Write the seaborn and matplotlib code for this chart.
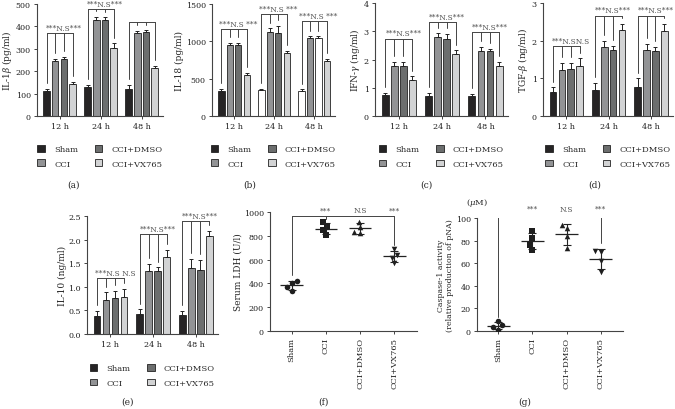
import numpy as np
import pandas as pd
import seaborn as sns
import matplotlib.pyplot as plt
from matplotlib.ticker import FormatStrFormatter

# datos
tiempos = ['12 h', '24 h', '48 h']
tratamientos = ['Sham', 'CCI', 'CCI+DMSO', 'CCI+VX765']

il1b_media = [[113, 245, 253, 145], [128, 430, 430, 305], [122, 370, 375, 215]]
il1b_err = [[8, 10, 10, 8], [10, 12, 10, 20], [17, 10, 8, 10]]
il1b_corchete = [370, 478, 420]
il1b_texto = ['***N.S***', '***N.S***', '']

il18_media = [[340, 950, 950, 550], [345, 1125, 1115, 850], [340, 1040, 1050, 740]]
il18_err = [[25, 30, 30, 30], [20, 50, 90, 25], [20, 30, 20, 30]]
il18_corchete = [1165, 1366, 1272]
il18_texto = ['***N.S ***', '***N.S ***', '***N.S ***']

ifn_media = [[0.73, 1.77, 1.77, 1.28], [0.72, 2.78, 2.72, 2.18], [0.72, 2.30, 2.30, 1.77]]
ifn_err = [[0.08, 0.15, 0.15, 0.12], [0.10, 0.15, 0.18, 0.15], [0.06, 0.15, 0.08, 0.15]]
ifn_corchete = [2.74, 3.33, 2.96]
ifn_texto = ['***N.S***', '***N.S***', '***N.S***']

tgf_media = [[0.65, 1.22, 1.26, 1.33], [0.70, 1.82, 1.74, 2.27], [0.78, 1.76, 1.72, 2.25]]
tgf_err = [[0.11, 0.20, 0.15, 0.20], [0.18, 0.17, 0.13, 0.18], [0.22, 0.15, 0.12, 0.20]]
tgf_corchete = [1.86, 2.66, 2.66]
tgf_texto = ['***N.SN.S', '***N.S***', '***N.S***']

il10_media = [[0.38, 0.73, 0.76, 0.78], [0.42, 1.33, 1.33, 1.63], [0.40, 1.39, 1.35, 2.08]]
il10_err = [[0.10, 0.15, 0.15, 0.18], [0.10, 0.16, 0.08, 0.15], [0.08, 0.20, 0.22, 0.10]]
il10_corchete = [1.18, 2.11, 2.39]
il10_texto = ['***N.S N.S', '***N.S***', '***N.S***']

ldh = {'Sham': [406, 417, 372, 339],
       'CCI': [915, 878, 845, 805],
       'CCI+DMSO': [920, 875, 825, 832],
       'CCI+VX765': [686, 641, 613, 571]}
caspasa = {'Sham': [5.0, 8.6, 3.5, 1.2],
           'CCI': [88.8, 82.0, 76.0, 71.6],
           'CCI+DMSO': [93.8, 90.8, 83.7, 73.4],
           'CCI+VX765': [71.0, 70.0, 62.0, 52.4]}
texto_puntos = ['***', 'N.S', '***']

colores = ['#262425', '#929395', '#6c6e6e', '#d2d3d4']
marcadores = ['o', 's', '^', 'v']
gris = '#444444'

sns.set_style('ticks')
plt.rcParams['font.family'] = ['DejaVu Serif']
plt.rcParams['mathtext.fontset'] = 'dejavuserif'
plt.rcParams['axes.edgecolor'] = gris
plt.rcParams['xtick.color'] = gris
plt.rcParams['ytick.color'] = gris
plt.rcParams['xtick.labelcolor'] = '#222222'
plt.rcParams['ytick.labelcolor'] = '#222222'
plt.rcParams['axes.linewidth'] = 0.8

W, H = 675, 410
fig = plt.figure(figsize=(W / 100, H / 100), dpi=100)


def caja(l, r, t, b):
    return [l / W, 1 - b / H, (r - l) / W, (b - t) / H]


def estilo(ax, ylim, yticks, ylabel):
    ax.set_ylim(ylim)
    ax.set_yticks(yticks)
    ax.set_ylabel(ylabel, fontsize=6.5, labelpad=1)
    ax.tick_params(labelsize=5.8, length=2.5, width=0.7, pad=2)
    sns.despine(ax=ax)


def panel_barras(ax, medias, errores, ylim, yticks, ylabel, corchetes, textos, blancos=()):
    filas = []
    for gi, t in enumerate(tiempos):
        for hi, g in enumerate(tratamientos):
            filas.append({'tiempo': t, 'grupo': g, 'valor': medias[gi][hi]})
    df = pd.DataFrame(filas)
    sns.barplot(data=df, x='tiempo', y='valor', hue='grupo', order=tiempos,
                hue_order=tratamientos, palette=colores, width=0.84, gap=0.25,
                errorbar=None, saturation=1, ax=ax)
    paso = 0.84 / 4
    for p in ax.patches:
        cx = p.get_x() + p.get_width() / 2
        gi = int(round(cx))
        hi = int(round((cx - gi) / paso + 1.5))
        p.set_edgecolor('#222222')
        p.set_linewidth(0.6)
        if (gi, hi) in blancos:
            p.set_facecolor('white')
    ymax = ylim[1]
    for gi in range(3):
        xs = [gi + (hi - 1.5) * paso for hi in range(4)]
        arriba = [medias[gi][hi] + errores[gi][hi] for hi in range(4)]
        ax.errorbar(xs, [medias[gi][hi] for hi in range(4)],
                    yerr=[np.zeros(4), errores[gi]], fmt='none', ecolor='#222222',
                    elinewidth=0.7, capsize=1.6, capthick=0.7)
        y0 = corchetes[gi]
        ax.plot([xs[0], xs[3]], [y0, y0], color=gris, lw=0.7)
        for hi in range(4):
            ax.plot([xs[hi], xs[hi]], [y0, arriba[hi] + 0.05 * ymax], color=gris, lw=0.7)
        if textos[gi]:
            ax.text(xs[2], y0 + 0.012 * ymax, textos[gi], ha='center', va='bottom',
                    fontsize=5.3, color='#555555')
    ax.set_xlim(-0.55, 2.52)
    ax.set_xlabel('')
    estilo(ax, ylim, yticks, ylabel)
    h, l = ax.get_legend_handles_labels()
    ax.legend(h, l, ncol=2, loc='upper center', bbox_to_anchor=(0.5, -0.19),
              frameon=False, fontsize=6, handlelength=0.9, handleheight=0.9,
              columnspacing=2.0, handletextpad=1.1, labelspacing=0.75)


def panel_puntos(ax, datos, ylim, yticks, ylabel, corchete):
    df = pd.DataFrame([(g, v) for g in tratamientos for v in datos[g]],
                      columns=['grupo', 'valor'])
    for g, m in zip(tratamientos, marcadores):
        sns.swarmplot(data=df[df['grupo'] == g], x='grupo', y='valor', order=tratamientos,
                      marker=m, color='#1e1e1e', size=4.0, ax=ax)
    res = df.groupby('grupo')['valor'].agg(['mean', 'std']).reindex(tratamientos)
    x = np.arange(4)
    ax.hlines(res['mean'], x - 0.33, x + 0.33, color='#222222', lw=0.9, zorder=4)
    ax.errorbar(x, res['mean'], yerr=res['std'], fmt='none', ecolor='#222222',
                elinewidth=0.8, capsize=3, capthick=0.8, zorder=4)
    ymax = ylim[1]
    ax.plot([0, 3], [corchete, corchete], color=gris, lw=0.7)
    for i in [0, 3]:
        fin = res['mean'].iloc[i] + res['std'].iloc[i] + 0.05 * ymax
        ax.plot([i, i], [corchete, fin], color=gris, lw=0.7)
    ax.plot([1, 1], [corchete, corchete - 0.025 * ymax], color=gris, lw=0.7)
    for i, s in zip([1, 2, 3], texto_puntos):
        ax.text(i, corchete + 0.015 * ymax, s, ha='center', va='bottom',
                fontsize=5.3, color='#555555')
    ax.set_xlim(-0.63, 3.66)
    ax.set_xlabel('')
    estilo(ax, ylim, yticks, ylabel)
    ax.set_xticks(x)
    ax.set_xticklabels(tratamientos, rotation=90, fontsize=6)


ax_a = fig.add_axes(caja(37, 163, 5, 117))
panel_barras(ax_a, il1b_media, il1b_err, (0, 500), range(0, 501, 100),
             r'IL-1$\beta$ (pg/ml)', il1b_corchete, il1b_texto)

ax_b = fig.add_axes(caja(212, 335, 5, 117))
panel_barras(ax_b, il18_media, il18_err, (0, 1500), range(0, 1501, 500),
             'IL-18 (pg/ml)', il18_corchete, il18_texto,
             blancos=[(1, 0), (2, 0), (2, 2)])

ax_c = fig.add_axes(caja(375, 508, 4, 117))
panel_barras(ax_c, ifn_media, ifn_err, (0, 4), range(0, 5),
             r'IFN-$\gamma$ (ng/ml)', ifn_corchete, ifn_texto)

ax_d = fig.add_axes(caja(543, 673, 4, 117))
panel_barras(ax_d, tgf_media, tgf_err, (0, 3), range(0, 4),
             r'TGF-$\beta$ (ng/ml)', tgf_corchete, tgf_texto)

ax_e = fig.add_axes(caja(87, 218, 217, 335))
panel_barras(ax_e, il10_media, il10_err, (0, 2.5), np.arange(0, 2.51, 0.5),
             'IL-10 (ng/ml)', il10_corchete, il10_texto)
ax_e.yaxis.set_major_formatter(FormatStrFormatter('%.1f'))

ax_f = fig.add_axes(caja(270, 417, 213, 332))
panel_puntos(ax_f, ldh, (0, 1000), range(0, 1001, 200), 'Serum LDH (U/l)', 966)

ax_g = fig.add_axes(caja(477, 623, 219, 332))
panel_puntos(ax_g, caspasa, (0, 100), range(0, 101, 20),
             'Caspase-1 activity\n(relative production of pNA)', 103)
ax_g.yaxis.label.set_fontsize(5.6)
ax_g.text(0, 1.09, r'($\mu$M)', transform=ax_g.transAxes, ha='center', va='bottom',
          fontsize=6)

for s, x, y in [('(a)', 74, 185), ('(b)', 250, 185), ('(c)', 426, 185), ('(d)', 595, 185),
                ('(e)', 127, 402), ('(f)', 323, 402), ('(g)', 525, 402)]:
    fig.text(x / W, 1 - y / H, s, ha='center', va='center', fontsize=6.5)

plt.savefig('out.png', dpi=100)
